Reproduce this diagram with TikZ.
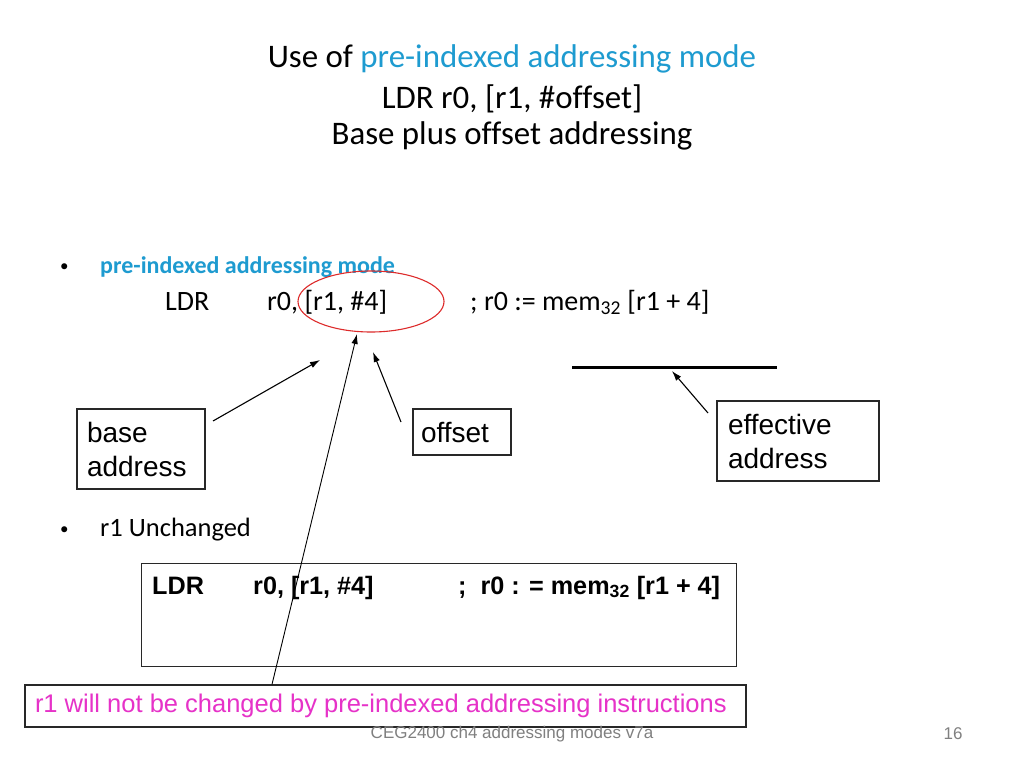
\documentclass[tikz,border=0pt]{standalone}
\usepackage{fontspec}
\setmainfont{Carlito}[Ligatures=NoCommon]
\newfontfamily\arialf{Liberation Sans}
\usetikzlibrary{arrows.meta,shapes.geometric}
\definecolor{tblue}{RGB}{30,155,208}
\definecolor{tpink}{RGB}{230,50,200}
\definecolor{ered}{RGB}{221,43,43}
\definecolor{fgray}{RGB}{128,128,128}
\definecolor{bline}{RGB}{40,40,40}
\begin{document}
\begin{tikzpicture}[x=1pt,y=-1pt,
  ttl/.style={inner sep=0pt,font=\fontsize{32.9}{38}\selectfont},
  body/.style={inner sep=0pt,anchor=base west,font=\fontsize{28}{32}\selectfont},
  box/.style={draw=bline,line width=1.2pt,rectangle,inner xsep=10pt,align=left,
     font=\arialf\fontsize{28}{34}\selectfont},
  codet/.style={inner sep=0pt,anchor=base west,font=\arialf\bfseries\fontsize{25.2}{28}\selectfont},
  arr/.style={line width=1.1pt,-{Latex[length=10pt,width=6.5pt]}},
  thinarr/.style={line width=0.9pt,-{Latex[length=10pt,width=6.5pt]}}]
\useasboundingbox (0,0) rectangle (1024,768);
\fill[white] (0,0) rectangle (1024,768);

% title
\node[ttl] (t1) at (512,59) {Use of \textcolor{tblue}{pre-indexed addressing mode}};
\node[ttl] (t2) at (512,98.5) {LDR r0, [r1, \#offset]};
\node[ttl] (t3) at (512,136) {Base plus offset addressing};

% bullets
\node[inner sep=0pt,anchor=base west,font=\fontsize{17}{20}\selectfont] (b1) at (60,271) {•};
\node[inner sep=0pt,anchor=base west,text=tblue,font=\bfseries\fontsize{24}{28}\selectfont] (b1t) at (100,273) {pre-indexed addressing mode};
\node[body] (ldr) at (165,310) {LDR};
\node[body] (ops) at (267,310) {r0, [r1, \#4]};
\node[body] (cmt) at (470,310) {; r0 := mem\textsubscript{32} [r1 + 4]};

\node[inner sep=0pt,anchor=base west,font=\fontsize{17}{20}\selectfont] (b2) at (60,534) {•};
\node[inner sep=0pt,anchor=base west,font=\fontsize{26.5}{30}\selectfont] (b2t) at (100,536) {r1 Unchanged};

% red ellipse
\node[ellipse,draw=ered,line width=1.1pt,minimum width=146pt,minimum height=61pt,inner sep=0pt] (circ) at (371,301.5) {};

% effective address underline
\draw[line width=3pt,black] (572,367) coordinate (ul1) -- (777,367) coordinate (ul2);

% boxes
\node[box,minimum width=128pt,minimum height=80pt,text width=108pt] (base) at (141,449) {base\\address};
\node[box,minimum width=98pt,minimum height=46pt,inner xsep=8pt,text width=82pt] (off) at (462,432) {offset};
\node[box,minimum width=162pt,minimum height=80pt,inner xsep=11pt,text width=140pt] (eff) at (798,441) {effective\\address};

% code box
\node[draw=bline,line width=1.2pt,rectangle,minimum width=595pt,minimum height=103pt,anchor=north west,inner sep=0pt] (code) at (141,563) {};
\node[codet] (c1) at (152,594) {LDR};
\node[codet] (c2) at (253,594) {r0, [r1, \#4]};
\node[codet] (c3) at (458,594) {;\ \ r0 : = mem\textsubscript{32} [r1 + 4]};

% pink box
\node[draw=bline,line width=1.2pt,rectangle,minimum height=42pt,inner xsep=10pt,inner ysep=0pt,text=tpink,
  font=\arialf\fontsize{25.5}{30}\selectfont] (pink) at (385.5,706) {\makebox[701pt][l]{r1 will not be changed by pre-indexed addressing instructions}};

% footer
\node[inner sep=0pt,text=fgray,font=\arialf\fontsize{17}{20}\selectfont] (foot) at (512,734) {CEG2400 ch4 addressing modes v7a};
\node[inner sep=0pt,text=fgray,font=\arialf\fontsize{17}{20}\selectfont] (pg) at (953,734) {16};

% arrows
\coordinate (a1s) at (213,421);
\coordinate (a1e) at (320,360);
\coordinate (a2s) at (401,422);
\coordinate (a2e) at (373,352);
\coordinate (a3s) at (272,686);
\coordinate (a3e) at (357,334);
\coordinate (a4s) at (708,413);
\coordinate (a4e) at (672,371);
\draw[arr] (a1s) -- (a1e);
\draw[arr] (a2s) -- (a2e);
\draw[thinarr] (pink.north -| a3s) -- (a3e);
\draw[arr] (a4s) -- (a4e);
\end{tikzpicture}
\end{document}
